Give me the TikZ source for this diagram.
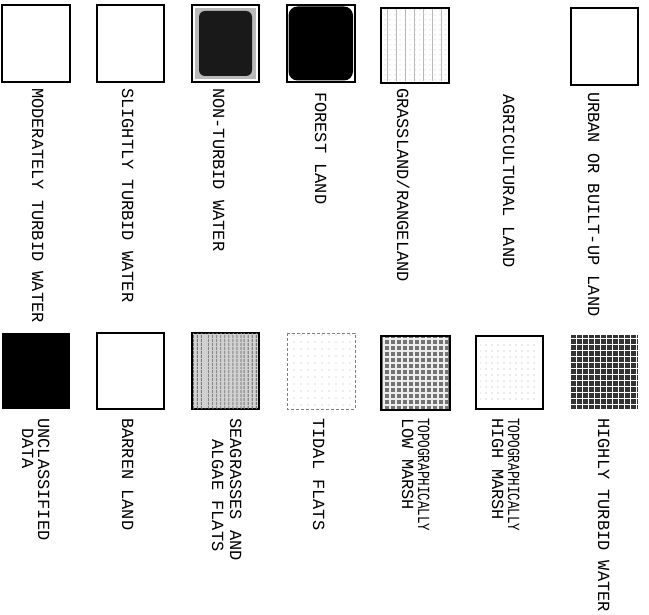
\documentclass[tikz,border=0pt]{standalone}
\usepackage{fontspec}
\usepackage{graphicx}
\newfontfamily\plotfont{Liberation Mono}
\usetikzlibrary{patterns, patterns.meta}

\begin{document}
\begin{tikzpicture}[x=1pt, y=-1pt,
    legend/.style={rotate=-90, anchor=base west, inner sep=0pt, font=\plotfont\fontsize{17}{17}\selectfont},
    swatch/.style={draw=black, line width=1.2pt}]
    \useasboundingbox (0,0) rectangle (649,615);
    % Top row of swatches
    \draw[swatch, fill=white] (2,5) rectangle (70,82);
    \draw[swatch, fill=white] (97,5) rectangle (164,82);
    \draw[swatch, fill=white] (192,5) rectangle (259,82);
    \fill[gray!55] (195,8) rectangle (256,79);
    \fill[black!90, rounded corners=6pt] (199,11) rectangle (252,76);
    \draw[swatch, fill=white] (287,5) rectangle (355,82);
    \fill[black, rounded corners=9pt] (288.5,6.5) rectangle (353,80.5);
    \draw[swatch, fill=white] (381,8) rectangle (449,83);
    \fill[pattern={Lines[angle=90, distance=9pt, line width=0.8pt]}, pattern color=gray!55] (383,10) rectangle (447,81);
    \fill[pattern={Dots[distance=5pt, radius=0.5pt]}, pattern color=gray!60] (383,10) rectangle (447,81);
    \draw[swatch, fill=white] (571,8) rectangle (638,85);
    % Bottom row of swatches
    \fill[black] (2,333) rectangle (70,409);
    \draw[swatch, fill=white] (97,333) rectangle (164,409);
    \draw[swatch, fill=gray!35] (192,333) rectangle (259,409);
    \fill[pattern={Lines[angle=90, distance=4pt, line width=1.2pt]}, pattern color=black!60] (193,334) rectangle (258,408);
    \draw[densely dashed, line width=0.8pt, gray] (287,333) rectangle (355,409);
    \fill[pattern={Dots[distance=7pt, radius=0.6pt]}, pattern color=gray!60] (289,335) rectangle (353,407);
    \draw[swatch, fill=black!55] (381,336) rectangle (450,410);
    \fill[pattern={Hatch[distance=6pt, line width=1.2pt]}, pattern color=white!85!gray] (383,338) rectangle (448,408);
    \draw[swatch, fill=white] (476,336) rectangle (543,409);
    \fill[pattern={Dots[distance=6pt, radius=0.6pt]}, pattern color=gray!70] (480,345) rectangle (539,400);
    \fill[black!80] (570,335) rectangle (638,409);
    \fill[pattern={Hatch[distance=6pt, line width=1pt]}, pattern color=white] (570,335) rectangle (638,409);
    % Top row labels
    \node[legend] (modturbid) at (32,88) {MODERATELY TURBID WATER};
    \node[legend] (slightturbid) at (122,88) {SLIGHTLY TURBID WATER};
    \node[legend] (nonturbid) at (213,88) {NON-TURBID WATER};
    \node[legend] (forest) at (315,92) {FOREST LAND};
    \node[legend] (grass) at (397,88) {GRASSLAND/RANGELAND};
    \node[legend] (agri) at (503,94) {AGRICULTURAL LAND};
    \node[legend] (urban) at (588,92) {URBAN OR BUILT-UP LAND};
    % Bottom row labels
    \node[legend] (unclass) at (38,418) {UNCLASSIFIED};
    \node[legend] (unclassdata) at (22,428) {DATA};
    \node[legend] (barren) at (122,418) {BARREN LAND};
    \node[legend] (seagrass) at (230,418) {SEAGRASSES AND};
    \node[legend] (algae) at (212,439) {ALGAE FLATS};
    \node[legend] (tidal) at (313,418) {TIDAL FLATS};
    \node[legend] (lowtopo) at (418,418) {\scalebox{0.74}[1]{TOPOGRAPHICALLY}};
    \node[legend] (lowmarsh) at (402,418) {LOW MARSH};
    \node[legend] (hightopo) at (508,418) {\scalebox{0.74}[1]{TOPOGRAPHICALLY}};
    \node[legend] (highmarsh) at (492,418) {HIGH MARSH};
    \node[legend] (highturbid) at (598,418) {HIGHLY TURBID WATER};
\end{tikzpicture}
\end{document}
